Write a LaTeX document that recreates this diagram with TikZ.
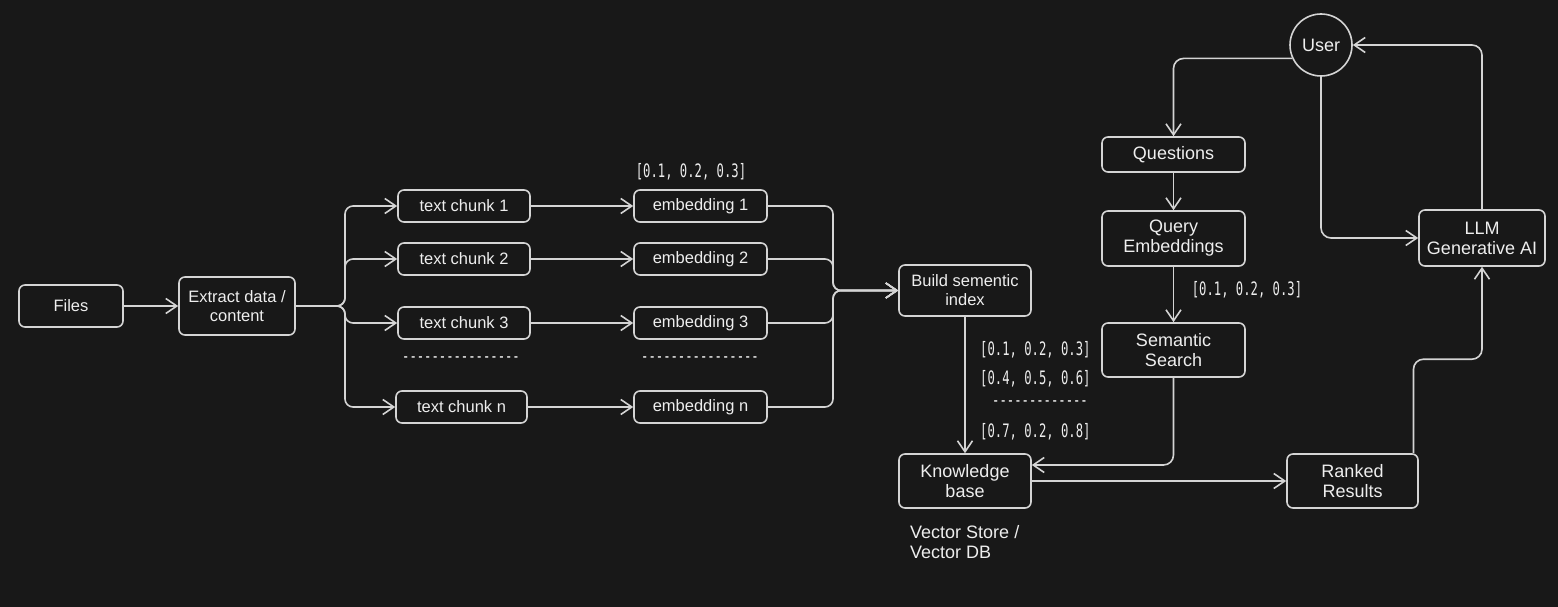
\documentclass[tikz,border=0pt]{standalone}
\usepackage{fontspec}
\setmainfont{Liberation Sans}
\newfontfamily\monof[FakeStretch=0.66]{DejaVu Sans Mono}
\usetikzlibrary{arrows.meta,calc}
\definecolor{bgc}{HTML}{181818}
\definecolor{fgc}{HTML}{D4D4D4}
\definecolor{txc}{HTML}{EEEEEE}
\tikzset{
  boxL/.style={draw=fgc, line width=1.6pt, rounded corners=6pt, text=txc, align=center, inner sep=0pt,
    font=\fontsize{16.5}{19}\selectfont},
  boxR/.style={draw=fgc, line width=1.6pt, rounded corners=6pt, text=txc, align=center, inner sep=0pt,
    font=\fontsize{18}{20}\selectfont},
  lbl/.style={text=txc, inner sep=0pt, font=\monof\fontsize{18.5}{20}\selectfont},
  txt/.style={text=txc, inner sep=0pt, align=left, font=\fontsize{18}{20}\selectfont},
  ln/.style={draw=fgc, line width=1.6pt},
  arr/.style={ln, -{Straight Barb[length=11pt,width=15pt,line width=1.6pt]}},
}
\begin{document}
\begin{tikzpicture}[x=1pt,y=-1pt]
\fill[bgc] (0,0) rectangle (1558,607);
\useasboundingbox (0,0) rectangle (1558,607);

% left pipeline
\node[boxL, minimum width=104, minimum height=42] (files) at (71,306) {Files};
\node[boxL, minimum width=116, minimum height=58] (ex) at (237,306) {Extract data /\\content};
\node[boxL, minimum width=132, minimum height=32] (c1) at (464,206) {text chunk 1};
\node[boxL, minimum width=132, minimum height=32] (c2) at (464,259) {text chunk 2};
\node[boxL, minimum width=132, minimum height=32] (c3) at (464,323) {text chunk 3};
\node[boxL, minimum width=131, minimum height=32] (cn) at (461.5,407) {text chunk n};
\node[boxL, minimum width=133, minimum height=32] (e1) at (700.5,206) {embedding 1};
\node[boxL, minimum width=133, minimum height=32] (e2) at (700.5,259) {embedding 2};
\node[boxL, minimum width=133, minimum height=32] (e3) at (700.5,323) {embedding 3};
\node[boxL, minimum width=133, minimum height=32] (en) at (700.5,407) {embedding n};
\node[lbl] (l1) at (691,172) {[0.1, 0.2, 0.3]};
\node[lbl] (d1) at (461,360) {----------------};
\node[lbl] (d2) at (700,360) {----------------};
\node[boxL, minimum width=132, minimum height=51] (bi) at (965,290.5) {Build sementic\\index};
\node[boxR, minimum width=132, minimum height=54] (kb) at (965,481) {Knowledge\\base};
\node[txt, anchor=west] (vs) at (910,542) {Vector Store /\\Vector DB};
\node[lbl, anchor=west] (k1) at (980,350) {[0.1, 0.2, 0.3]};
\node[lbl, anchor=west] (k2) at (980,379) {[0.4, 0.5, 0.6]};
\node[lbl, anchor=east] (k3) at (1088,404) {-------------};
\node[lbl, anchor=west] (k4) at (980,432) {[0.7, 0.2, 0.8]};

% right part
\node[boxR, circle, rounded corners=0pt, minimum size=62] (user) at (1321,45) {User};
\node[boxR, minimum width=143, minimum height=35] (q) at (1173.5,154.5) {Questions};
\node[boxR, minimum width=143, minimum height=55] (qe) at (1173.5,238.5) {Query\\Embeddings};
\node[boxR, minimum width=143, minimum height=54] (ss) at (1173.5,350) {Semantic\\Search};
\node[boxR, minimum width=126, minimum height=56] (llm) at (1482,238) {LLM\\Generative AI};
\node[boxR, minimum width=131, minimum height=54] (rr) at (1352.5,481) {Ranked\\Results};
\node[lbl] (ql) at (1247,290) {[0.1, 0.2, 0.3]};

% connectors left
\draw[arr] (files) -- (ex);
\coordinate (bj) at (345,306);
\foreach \c in {c1,c2,c3,cn} {
  \draw[arr, rounded corners=8pt] (ex.east) -- (bj) |- (\c.west);
}
\draw[arr] (c1) -- (e1);
\draw[arr] (c2) -- (e2);
\draw[arr] (c3) -- (e3);
\draw[arr] (cn) -- (en);
\coordinate (mj) at (833,290.5);
\foreach \e in {e1,e2,e3,en} {
  \draw[arr, rounded corners=8pt] (\e.east) -| (mj) -- (bi.west);
}
\draw[arr] (bi) -- (kb);

% connectors right
\draw[arr, rounded corners=10pt] (user.205) -| (q.north);
\draw[arr] (q) -- (qe);
\draw[arr] (qe) -- (ss);
\draw[arr, rounded corners=10pt] (ss.south) |- ([yshift=16pt]kb.east);
\draw[arr] (kb) -- (rr);
\draw[arr, rounded corners=10pt] ([xshift=61pt]rr.north) -- ++(0,-94) -| (llm.south);
\draw[arr, rounded corners=10pt] (user.south) |- (llm.west);
\draw[arr, rounded corners=10pt] (llm.north) |- (user.east);
\end{tikzpicture}
\end{document}
